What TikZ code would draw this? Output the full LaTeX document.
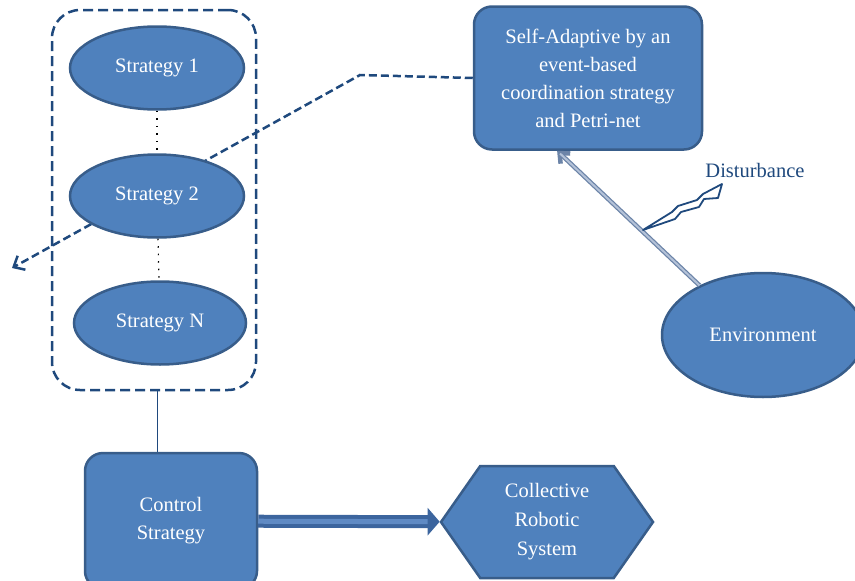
\documentclass[tikz,border=0pt]{standalone}
\usepackage{fontspec}
\setmainfont{Liberation Serif}
\usetikzlibrary{arrows.meta,shapes.geometric,shapes.symbols}
\definecolor{boxfill}{HTML}{4F81BD}
\definecolor{boxline}{HTML}{385D8A}
\definecolor{navy}{HTML}{1F497D}
\definecolor{fatblue}{HTML}{3C659E}
\definecolor{fatcore}{HTML}{5F8AC4}
\definecolor{slatefill}{HTML}{B4C2D8}
\definecolor{slateline}{HTML}{6C84A8}
\begin{document}
\begin{tikzpicture}[x=1pt,y=-1pt,
  every node/.style={font=\fontsize{20.5}{28}\selectfont, align=center},
  block/.style={draw=boxline, fill=boxfill, line width=2.5pt, text=white, inner sep=0pt},
  strat/.style={block, ellipse, minimum width=174pt, minimum height=83pt},
  roundbox/.style={block, rectangle, rounded corners=18pt}]
\useasboundingbox (0,0) rectangle (855,581);
\clip (0,0) rectangle (855,581);
\coordinate (bend) at (360,75);
\coordinate (lost) at (12,268);
\node[roundbox, minimum width=228pt, minimum height=143pt] (sa) at (588,78) {Self-Adaptive by an\\event-based\\coordination strategy\\and Petri-net};
\draw[navy, line width=2.5pt, dash pattern=on 8pt off 4pt, -{Straight Barb[length=9pt,width=16pt]}] (sa.west) -- (bend) -- (lost);
\node[strat] (s1) at (157,68) {Strategy 1};
\node[strat] (s2) at (157,196) {Strategy 2};
\node[strat, minimum width=172pt] (sN) at (160,323) {Strategy N};
\draw[line width=1.2pt, dash pattern=on 1.5pt off 6pt] (s1) -- (s2);
\draw[line width=1.2pt, dash pattern=on 1.5pt off 6pt] (s2) -- (sN);
\node[draw=navy, line width=2.5pt, dash pattern=on 10pt off 5pt, rounded corners=28pt, minimum width=204pt, minimum height=380pt] (group) at (154,200) {};
\node[roundbox, minimum width=172pt, minimum height=136pt] (cs) at (171,521) {Control\\Strategy};
\draw[navy, line width=1pt] (group.south -| s1) -- (cs.north -| s1);
\node[block, signal, signal to=east and west, signal pointer angle=110, minimum width=212pt, minimum height=112pt, font=\fontsize{20.5}{29}\selectfont] (crs) at (547,522) {Collective\\Robotic\\System};
\draw[fatblue, line width=13pt, -{Triangle[length=12pt,width=27pt]}] (cs) -- (crs);
\draw[fatcore, line width=5pt, shorten >=12pt] (cs) -- (crs);
\node[block, ellipse, minimum width=202pt, minimum height=124pt] (env) at (763,335) {Environment};
\draw[slateline, line width=4.5pt, -{Straight Barb[length=8pt,width=14pt]}] (env.142) -- (sa.247);
\draw[slatefill, line width=2pt, shorten >=4pt] (env.142) -- (sa.247);
\draw[navy, line width=1.8pt, fill=white, line join=round] (643,230) -- (672,212) -- (678,206) -- (697,200) -- (703,194) -- (722,184) -- (718,198) -- (704,199) -- (699,207) -- (681,212) -- (675,219) -- cycle;
\node[text=navy] (dist) at (755,170) {Disturbance};
\end{tikzpicture}
\end{document}
